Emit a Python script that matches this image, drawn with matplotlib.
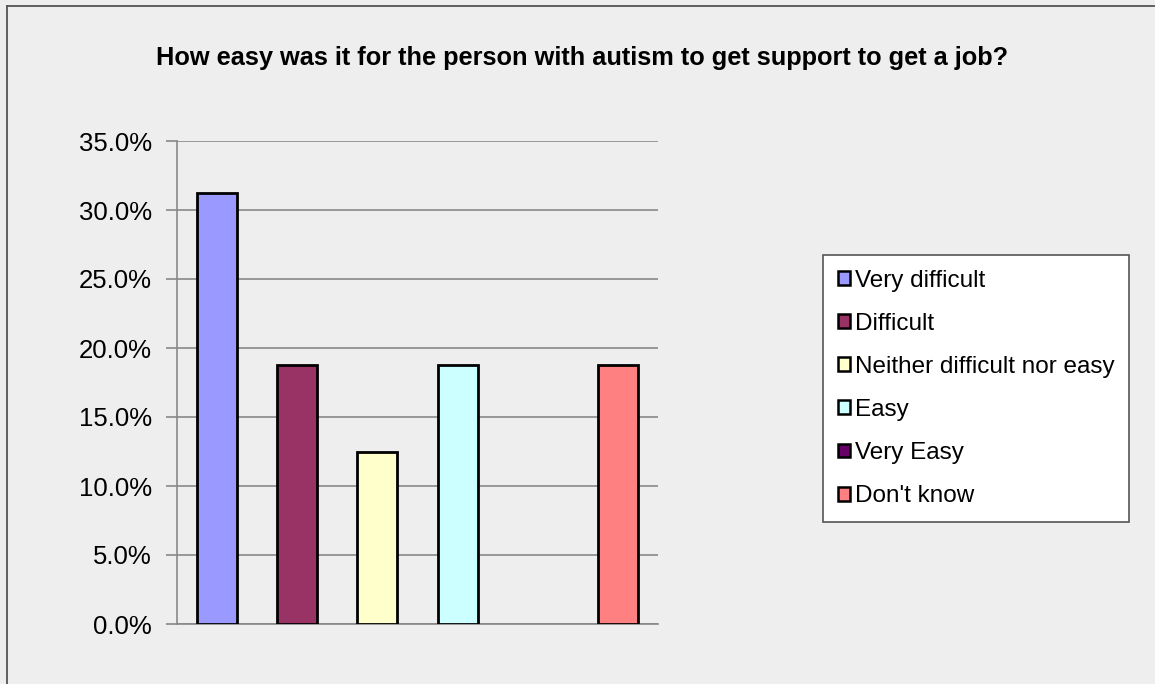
import matplotlib
matplotlib.use("Agg")
import matplotlib.pyplot as plt
from matplotlib.patches import Patch
from matplotlib.lines import Line2D
from matplotlib.ticker import FuncFormatter

plt.rcParams['font.family'] = ['Liberation Sans', 'DejaVu Sans']

categories = ["Very difficult", "Difficult", "Neither difficult nor easy",
              "Easy", "Very Easy", "Don't know"]
shares = [31.25, 18.75, 12.5, 18.75, 0.0, 18.75]
colors = ["#9999FF", "#993366", "#FFFFCC", "#CCFFFF", "#660066", "#FF8080"]
yticks = [0, 5, 10, 15, 20, 25, 30, 35]

W, H = 1155, 684
fig = plt.figure(figsize=(W / 100, H / 100), dpi=100)
fig.patch.set_facecolor("#EEEEEE")

# chart frame: only the top and left edges fall inside the image
fig.add_artist(Line2D([7 / W, 7 / W], [0, 1 - 5.5 / H], color="#555555", lw=1.3))
fig.add_artist(Line2D([7 / W, 1], [1 - 5.5 / H, 1 - 5.5 / H], color="#555555", lw=1.3))

ax = fig.add_axes([177 / W, 1 - 624 / H, (658 - 177) / W, (624 - 141) / H])
ax.set_facecolor("#EEEEEE")

x = range(len(categories))
edge_w = [0 if v == 0 else 2 for v in shares]
ax.bar(x, shares, width=0.5, color=colors, edgecolor="black", linewidth=edge_w, zorder=3)

ax.set_xlim(-0.5, len(categories) - 0.5)
ax.set_ylim(0, 35)
ax.set_yticks(yticks)
ax.yaxis.set_major_formatter(FuncFormatter(lambda v, p: f"{v:.1f}%"))
ax.set_xticks([])
ax.grid(axis="y", color="#888888", lw=1.2, zorder=0)

for s in ["top", "right"]:
    ax.spines[s].set_visible(False)
ax.spines["left"].set_color("#888888")
ax.spines["bottom"].set_color("#888888")
ax.spines["left"].set_linewidth(1.2)
ax.spines["bottom"].set_linewidth(1.2)
ax.tick_params(axis="y", length=8, width=1.2, color="#888888", labelsize=18.5, pad=10)

fig.text(582 / W, 1 - 58 / H,
         "How easy was it for the person with autism to get support to get a job?",
         ha="center", va="center", fontsize=18.3, fontweight="bold")

handles = [Patch(facecolor=c, edgecolor="black", lw=1.8) for c in colors]
leg = fig.legend(handles, categories, loc="upper left",
                 bbox_to_anchor=(823 / W, 1 - 255 / H), fontsize=17.5,
                 frameon=True, fancybox=False, framealpha=1,
                 handlelength=0.5, handleheight=0.5, handletextpad=0.2,
                 labelspacing=0.87, borderpad=0.6, borderaxespad=0)
leg.get_frame().set_edgecolor("#555555")
leg.get_frame().set_linewidth(1.2)

fig.savefig("out.png", dpi=100, facecolor=fig.get_facecolor())
